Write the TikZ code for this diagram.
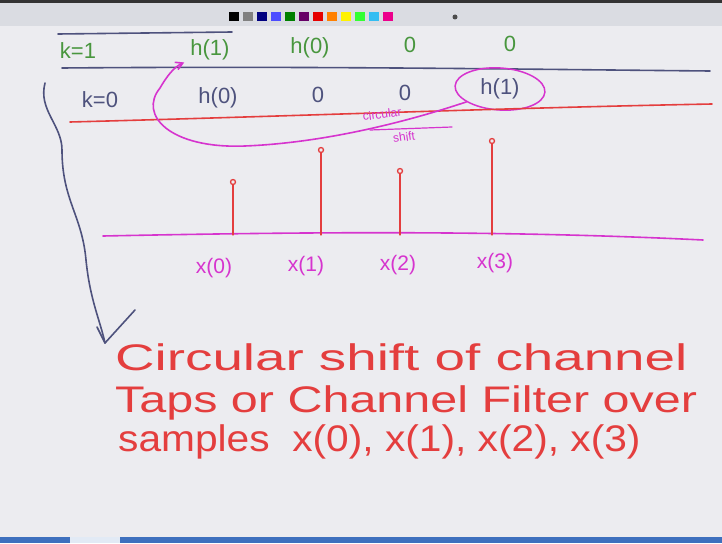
\documentclass[tikz,border=0pt]{standalone}
\usepackage{fontspec}
\setmainfont{Liberation Sans}
\usetikzlibrary{arrows.meta,shapes.geometric}
\definecolor{boardbg}{RGB}{236,236,240}
\definecolor{barbg}{RGB}{218,220,226}
\definecolor{inkgreen}{RGB}{72,150,62}
\definecolor{inkblue}{RGB}{78,82,125}
\definecolor{inkred}{RGB}{228,62,62}
\definecolor{inkpink}{RGB}{214,52,206}
\definecolor{barblue}{RGB}{62,112,190}
\tikzset{
  greentxt/.style={text=inkgreen, font=\fontsize{22}{26}\selectfont, inner sep=0pt},
  bluetxt/.style={text=inkblue, font=\fontsize{22}{26}\selectfont, inner sep=0pt},
  pinktxt/.style={text=inkpink, font=\fontsize{21}{25}\selectfont, inner sep=0pt},
  notetxt/.style={text=inkpink, font=\fontsize{12}{14}\selectfont, inner sep=0pt, rotate=8},
  redtxt/.style={text=inkred, font=\fontsize{37}{40}\selectfont, inner sep=0pt, anchor=base west},
  pen/.style={line width=1.6pt, line cap=round, line join=round},
  tap/.style={circle, draw=inkred, fill=boardbg, line width=1.3pt, inner sep=0pt, minimum size=5pt},
  swatch/.style={minimum width=10pt, minimum height=9pt, inner sep=0pt},
}

\begin{document}
\begin{tikzpicture}[x=1pt, y=-1pt]
    \useasboundingbox (0,0) rectangle (722,543);
    \fill[boardbg] (0,0) rectangle (722,543);
    % window toolbar and task bar
    \fill[black!80] (0,0) rectangle (722,3);
    \fill[barbg] (0,3) rectangle (722,26);
    \fill[barblue] (0,537) rectangle (722,543);
    \fill[white!85!barblue] (70,537) rectangle (120,543);
    \foreach \c [count=\i] in {black,gray,blue!50!black,blue!70!white,green!50!black,violet!80!black,red!90!black,orange,yellow,green!80!white,cyan!80!white,magenta} {
      \node[swatch, fill=\c] (sw\i) at (220+14*\i,17) {};
    }
    \fill[black!70] (455,17) circle (2.5pt);

    % rows of the taps
    \draw[pen, draw=inkblue] (58,34) -- (232,32);
    \node[greentxt] (k1) at (78,51) {k=1};
    \node[greentxt] (h1top) at (210,50) {h(1)};
    \node[greentxt] (h0top) at (310,48) {h(0)};
    \node[greentxt] (z1top) at (410,45) {0};
    \node[greentxt] (z2top) at (510,44) {0};
    \draw[pen, draw=inkblue] (62,68) .. controls (300,66) and (500,69) .. (710,71);

    \node[bluetxt] (k0) at (100,100) {k=0};
    \node[bluetxt] (h0bot) at (218,98) {h(0)};
    \node[bluetxt] (z1bot) at (318,95) {0};
    \node[bluetxt] (z2bot) at (405,93) {0};
    \node[bluetxt] (h1bot) at (500,89) {h(1)};
    \node[ellipse, draw=inkpink, line width=1.5pt, minimum width=90pt, minimum height=42pt, rotate=-4] (ring) at (h1bot) {};
    \draw[pen, draw=inkred] (70,122) .. controls (300,116) and (500,108) .. (712,104);

    % circular shift of the tap
    \coordinate (loopend) at ([xshift=-6pt,yshift=-2pt]h1top.south west);
    \draw[pen, draw=inkpink, -{Straight Barb[length=7pt,width=8pt]}] (ring.205) .. controls (400,124) and (320,143) .. (245,146)
      .. controls (170,149) and (138,115) .. (160,88) .. controls (167,76) and (174,67) .. (loopend);
    \node[notetxt] (circ) at (382,114) {circular};
    \node[notetxt] (shft) at (404,137) {shift};
    \draw[pen, draw=inkpink, line width=1.2pt] (370,130) -- (452,127);

    % samples
    \draw[pen, draw=inkpink] (103,236) .. controls (300,232) and (500,230) .. (703,240);
    \foreach \n/\x/\top in {0/233/182, 1/321/150, 2/400/171, 3/492/141} {
      \coordinate (base\n) at (\x,235);
      \node[tap] (tip\n) at (\x,\top) {};
      \draw[pen, draw=inkred, line width=1.3pt] (base\n) -- (tip\n);
    }
    \node[pinktxt] (x0) at (214,268) {x(0)};
    \node[pinktxt] (x1) at (306,266) {x(1)};
    \node[pinktxt] (x2) at (398,265) {x(2)};
    \node[pinktxt] (x3) at (495,263) {x(3)};

    % conclusion
    \node[redtxt] (line1) at (115,370) {\scalebox{1.48}[1]{Circular shift of channel}};
    \node[redtxt] (line2) at (115,412) {\scalebox{1.31}[1]{Taps or Channel Filter over}};
    \node[redtxt] (line3) at (118,451) {\scalebox{1.1}[1]{samples \ x(0), x(1), x(2), x(3)}};

    \coordinate (brtop) at (45,83);
    \coordinate (brtip) at (105,343);
    \draw[pen, draw=inkblue] (brtop) .. controls (38,110) and (62,125) .. (62,150)
      .. controls (62,200) and (82,215) .. (86,260) .. controls (90,300) and (100,320) .. (brtip);
    \draw[pen, draw=inkblue] (97,327) -- (brtip) -- (135,310);
\end{tikzpicture}
\end{document}
